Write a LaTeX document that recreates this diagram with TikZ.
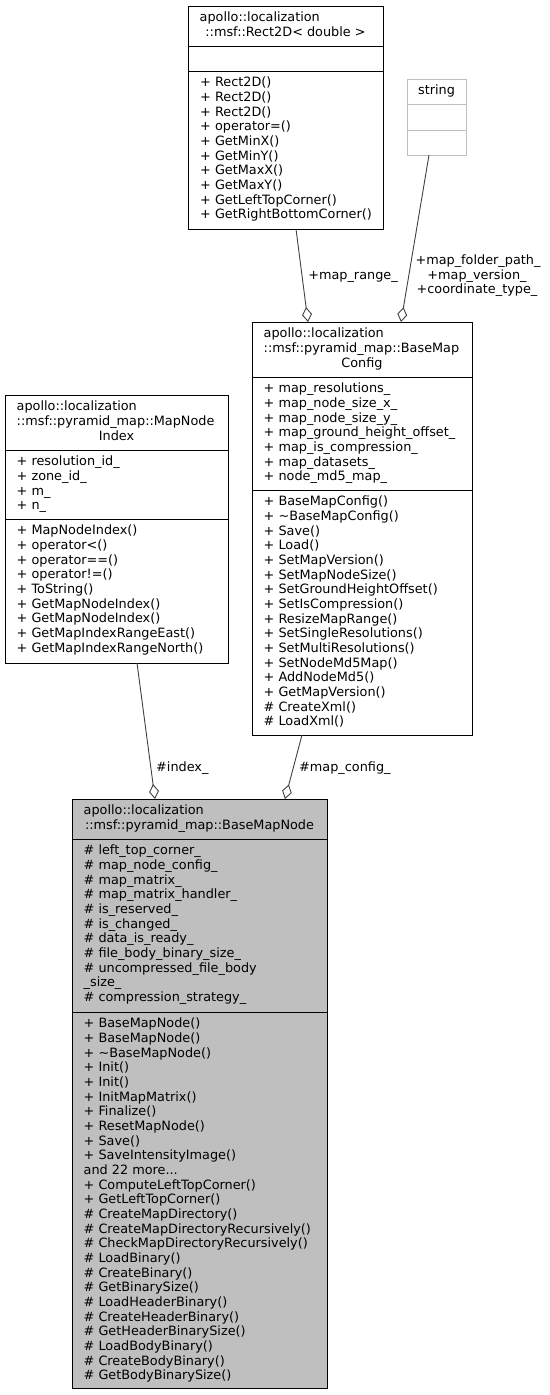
\documentclass[tikz,border=0pt]{standalone}
\usepackage{fontspec}
\setmainfont{DejaVu Sans}
\usetikzlibrary{arrows.meta}
\definecolor{edgegray}{HTML}{404040}
\definecolor{rootfill}{HTML}{BFBFBF}
\definecolor{extgray}{HTML}{BFBFBF}
\newcommand\dgfont{\fontsize{12.83}{14.67}\selectfont}
\newcommand\andmoretext{and 22 more...}
\tikzset{
  umlbox/.style={draw=black, line width=1pt, rectangle, inner sep=0pt, anchor=north west},
  sepline/.style={draw=black, line width=1pt},
  mtext/.style={anchor=base west, inner sep=0pt, font=\dgfont},
  ctext/.style={anchor=base, inner sep=0pt, font=\dgfont},
  rel/.style={draw=edgegray, line width=0.9pt, -{Diamond[open,length=15pt,width=10pt]}},
}
\newcommand\seclines[4]{%
  \foreach \t [count=\i from 0] in {#4} {\node[mtext] (#1\i) at (#2, #3+\i*14.67) {\t};}}
\begin{document}
\begin{tikzpicture}[x=1pt,y=-1pt]
\useasboundingbox (0,0) rectangle (549,1395);

% ---------- Rect2D ----------
\node[umlbox, minimum width=195pt, minimum height=223pt] (rect) at (188,6) {};
\draw[sepline] (188,46) -- (383,46);
\draw[sepline] (188,71) -- (383,71);
\node[mtext] (rh0) at (199.5,21.8) {apollo::localization};
\node[ctext] (rh1) at (285.5,36.5) {::msf::Rect2D< double >};
\seclines{rm}{200}{86.8}{+ Rect2D(), + Rect2D(), + Rect2D(), + operator=(), + GetMinX(), + GetMinY(), + GetMaxX(), + GetMaxY(), + GetLeftTopCorner(), + GetRightBottomCorner()}

% ---------- string ----------
\node[umlbox, draw=extgray, minimum width=59pt, minimum height=76pt] (str) at (407,79) {};
\draw[sepline, draw=extgray] (407,104) -- (466,104);
\draw[sepline, draw=extgray] (407,130) -- (466,130);
\node[ctext] (strh) at (436.5,94.8) {string};

% ---------- MapNodeIndex ----------
\node[umlbox, minimum width=223pt, minimum height=268pt] (idx) at (5,395) {};
\draw[sepline] (5,450) -- (228,450);
\draw[sepline] (5,519) -- (228,519);
\node[mtext] (ih0) at (16.5,410.8) {apollo::localization};
\node[mtext] (ih1) at (16.5,425.5) {::msf::pyramid\_map::MapNode};
\node[ctext] (ih2) at (116.5,440.1) {Index};
\seclines{ia}{16.5}{465.8}{+ resolution\_id\_, + zone\_id\_, + m\_, + n\_}
\seclines{im}{16.5}{534.8}{+ MapNodeIndex(), + operator<(), + operator==(), + operator!=(), + ToString(), + GetMapNodeIndex(), + GetMapNodeIndex(), + GetMapIndexRangeEast(), + GetMapIndexRangeNorth()}

% ---------- BaseMapConfig ----------
\node[umlbox, minimum width=220pt, minimum height=413pt] (cfg) at (252,322) {};
\draw[sepline] (252,377) -- (472,377);
\draw[sepline] (252,490) -- (472,490);
\node[mtext] (ch0) at (263.5,337.8) {apollo::localization};
\node[mtext] (ch1) at (263.5,352.5) {::msf::pyramid\_map::BaseMap};
\node[ctext] (ch2) at (362,367.1) {Config};
\seclines{ca}{263.5}{392.8}{+ map\_resolutions\_, + map\_node\_size\_x\_, + map\_node\_size\_y\_, + map\_ground\_height\_offset\_, + map\_is\_compression\_, + map\_datasets\_, + node\_md5\_map\_}
\seclines{cm}{263.5}{505.8}{+ BaseMapConfig(), + \textasciitilde BaseMapConfig(), + Save(), + Load(), + SetMapVersion(), + SetMapNodeSize(), + SetGroundHeightOffset(), + SetIsCompression(), + ResizeMapRange(), + SetSingleResolutions(), + SetMultiResolutions(), + SetNodeMd5Map(), + AddNodeMd5(), + GetMapVersion(), \# CreateXml(), \# LoadXml()}

% ---------- BaseMapNode ----------
\node[umlbox, fill=rootfill, minimum width=255pt, minimum height=589pt] (node) at (72,799) {};
\draw[sepline] (72,839) -- (327,839);
\draw[sepline] (72,1012) -- (327,1012);
\node[mtext] (nh0) at (83.5,814.8) {apollo::localization};
\node[ctext] (nh1) at (199.5,829.5) {::msf::pyramid\_map::BaseMapNode};
\seclines{na}{83.5}{854.8}{\# left\_top\_corner\_, \# map\_node\_config\_, \# map\_matrix\_, \# map\_matrix\_handler\_, \# is\_reserved\_, \# is\_changed\_, \# data\_is\_ready\_, \# file\_body\_binary\_size\_, \# uncompressed\_file\_body, \_size\_, \# compression\_strategy\_}
\seclines{nm}{83.5}{1027.8}{+ BaseMapNode(), + BaseMapNode(), + \textasciitilde BaseMapNode(), + Init(), + Init(), + InitMapMatrix(), + Finalize(), + ResetMapNode(), + Save(), + SaveIntensityImage(), \andmoretext, + ComputeLeftTopCorner(), + GetLeftTopCorner(), \# CreateMapDirectory(), \# CreateMapDirectoryRecursively(), \# CheckMapDirectoryRecursively(), \# LoadBinary(), \# CreateBinary(), \# GetBinarySize(), \# LoadHeaderBinary(), \# CreateHeaderBinary(), \# GetHeaderBinarySize(), \# LoadBodyBinary(), \# CreateBodyBinary(), \# GetBodyBinarySize()}

% ---------- connector end points ----------
\coordinate (rectB) at (296,229);
\coordinate (strB) at (429,155);
\coordinate (cfgT1) at (308,322);
\coordinate (cfgT2) at (401,322);
\coordinate (idxB) at (137,663);
\coordinate (cfgB) at (302,735);
\coordinate (nodeT1) at (155,799);
\coordinate (nodeT2) at (285,799);

\draw[rel] (rectB) -- (cfgT1);
\draw[rel] (strB) -- (cfgT2);
\draw[rel] (idxB) -- (nodeT1);
\draw[rel] (cfgB) -- (nodeT2);

% ---------- labels ----------
\node[ctext] (l1) at (353,279.5) {+map\_range\_};
\node[ctext] (l2a) at (478,264.5) {+map\_folder\_path\_};
\node[ctext] (l2b) at (477,279.2) {+map\_version\_};
\node[ctext] (l2c) at (477,293.8) {+coordinate\_type\_};
\node[mtext] (l3) at (156,771.5) {\#index\_};
\node[mtext] (l4) at (299,771.5) {\#map\_config\_};
\end{tikzpicture}
\end{document}
